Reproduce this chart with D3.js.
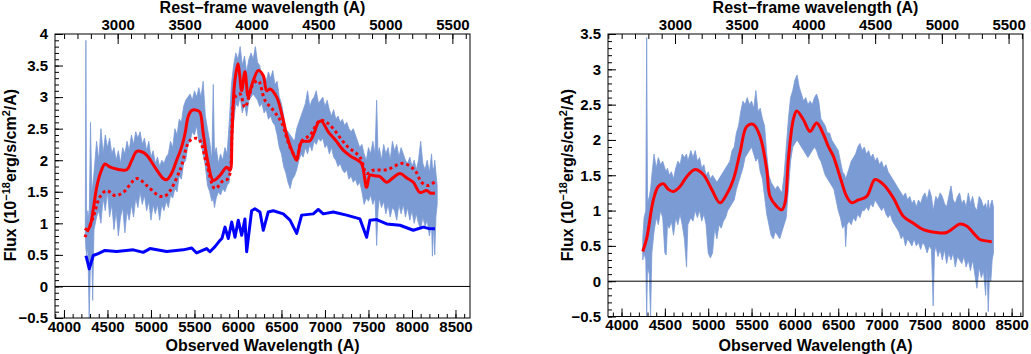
<!DOCTYPE html>
<html>
<head>
<meta charset="utf-8">
<script src="https://cdn.jsdelivr.net/npm/d3@7"></script>
<style>
  html, body { margin: 0; padding: 0; background: #fff; }
  svg { display: block; }
  text { font-family: "Liberation Sans", Arial, Helvetica, sans-serif; font-weight: bold; fill: #000; }
</style>
</head>
<body>
<svg id="chart" width="1031" height="354"></svg>
<script>
// ---------------- DATA ----------------
const redshiftFactor = 1.539;   // observed / rest-frame

const obsTicks = [4000, 4500, 5000, 5500, 6000, 6500, 7000, 7500, 8000, 8500];
const restTicks = [3000, 3500, 4000, 4500, 5000, 5500];
const leftYTicks = [-0.5, 0, 0.5, 1, 1.5, 2, 2.5, 3, 3.5, 4];
const rightYTicks = [-0.5, 0, 0.5, 1, 1.5, 2, 2.5, 3, 3.5];

// left panel: observed spectrum envelope
const leftBandWave = [4245,4252,4260,4275,4290,4305,4320,4330,4345,4375,4400,4425,4450,4475,4500,4525,4550,4575,4600,4625,4650,4675,4700,4725,4750,4775,4800,4825,4850,4875,4900,4925,4950,4975,5000,5025,5050,5075,5100,5125,5150,5175,5200,5225,5250,5275,5300,5325,5350,5375,5400,5425,5450,5475,5500,5525,5550,5575,5600,5625,5650,5675,5700,5716,5730,5750,5775,5800,5825,5850,5875,5900,5925,5950,5975,6000,6025,6050,6075,6100,6125,6150,6175,6200,6225,6250,6275,6300,6325,6350,6375,6400,6425,6450,6475,6500,6525,6550,6575,6600,6625,6650,6675,6700,6725,6750,6775,6800,6825,6850,6875,6900,6925,6950,6975,7000,7025,7050,7075,7100,7125,7150,7175,7200,7225,7250,7275,7300,7325,7350,7375,7400,7425,7450,7475,7500,7525,7550,7575,7594,7610,7625,7650,7675,7700,7725,7750,7775,7800,7825,7850,7875,7900,7925,7950,7975,8000,8025,8050,8075,8100,8125,8150,8175,8200,8225,8235,8250,8262,8275,8290];
const leftBandUpper = [0.9,3.9,1.0,1.2,1.0,2.6,1.5,1.6,1.8,2.3,2.0,2.5,2.1,2.4,2.2,2.35,2.1,2.2,2.0,2.15,1.95,2.2,2.1,2.3,2.15,2.4,2.25,2.45,2.35,2.45,2.25,2.35,2.15,2.3,2.05,2.15,1.95,2.05,1.9,2.0,1.95,2.05,2.1,2.3,2.2,2.5,2.4,2.65,2.6,2.85,2.95,3.0,3.05,2.95,3.1,3.0,3.15,3.0,3.25,2.7,2.5,2.3,2.0,3.2,2.1,2.2,1.95,2.1,2.0,2.2,2.1,2.6,3.2,3.5,3.7,3.6,3.8,3.5,3.65,3.4,3.6,3.7,3.6,3.8,3.55,3.5,3.3,3.35,3.25,3.4,3.3,3.42,3.2,3.25,3.0,2.9,2.7,2.5,2.45,2.4,2.35,2.3,2.5,2.6,2.7,2.8,2.9,3.1,2.85,2.95,3.0,3.1,2.9,2.95,3.0,2.85,2.95,2.8,2.7,2.8,2.65,2.7,2.6,2.65,2.55,2.6,2.5,2.45,2.5,2.4,2.3,2.2,2.25,2.1,2.0,2.2,2.1,2.3,2.1,2.95,2.1,2.2,2.0,2.25,2.1,2.2,2.0,2.3,2.15,2.25,2.05,2.2,2.1,2.0,1.95,2.05,1.9,2.0,1.85,2.0,2.3,1.95,1.85,2.0,1.8,2.1,1.9,1.85,2.0,1.8,1.6];
const leftBandLower = [0.8,0.6,0.5,0.6,-0.5,0.4,0.5,-0.22,0.9,1.1,1.2,1.0,1.4,1.2,1.5,1.1,1.3,0.9,1.2,0.8,1.1,1.25,0.85,1.2,1.05,1.3,1.1,1.4,1.25,1.5,1.3,1.45,1.2,1.35,1.05,1.3,1.15,1.3,1.05,1.3,1.2,1.35,1.25,1.45,1.4,1.55,1.5,1.75,1.7,1.95,2.0,2.25,2.3,2.45,2.4,2.55,2.3,2.3,2.1,1.9,1.6,1.5,1.35,1.4,1.25,1.4,1.5,1.45,1.55,1.5,1.6,1.65,2.2,2.6,2.9,2.85,3.0,2.75,2.9,2.7,2.95,3.0,3.05,3.0,2.95,2.85,2.9,2.75,2.8,2.65,2.7,2.6,2.55,2.4,2.2,2.1,1.9,1.8,1.65,1.55,1.7,1.75,1.85,2.0,2.1,2.05,2.2,2.1,2.25,2.15,2.3,2.25,2.35,2.3,2.35,2.2,2.25,2.1,2.2,2.05,2.0,1.9,1.95,1.85,1.8,1.85,1.7,1.75,1.65,1.7,1.6,1.65,1.5,1.3,1.4,1.35,1.45,1.3,1.4,0.65,1.2,1.4,1.25,1.35,1.15,1.3,1.1,1.25,1.2,1.05,1.3,1.15,1.3,1.1,1.25,1.05,1.2,1.0,1.15,1.0,0.9,1.1,0.95,1.05,0.8,1.0,0.48,1.0,0.5,1.1,1.3];

// right panel: observed spectrum envelope
const rightBandWave = [4245,4260,4280,4290,4300,4320,4335,4350,4375,4400,4425,4450,4475,4500,4515,4530,4550,4575,4600,4625,4650,4675,4700,4725,4750,4765,4800,4825,4850,4875,4900,4925,4950,4975,5000,5025,5050,5075,5100,5125,5150,5175,5200,5225,5250,5275,5300,5325,5350,5375,5400,5425,5450,5475,5500,5525,5550,5575,5600,5625,5650,5675,5700,5725,5750,5775,5800,5825,5850,5875,5900,5925,5950,5975,6000,6025,6050,6075,6100,6125,6150,6175,6200,6225,6250,6275,6300,6325,6350,6375,6400,6425,6450,6475,6500,6525,6550,6575,6585,6600,6625,6650,6675,6700,6725,6750,6775,6800,6825,6850,6875,6900,6925,6950,6975,7000,7025,7050,7075,7100,7125,7150,7175,7200,7225,7250,7275,7300,7325,7350,7375,7400,7425,7450,7475,7500,7525,7550,7575,7595,7610,7625,7650,7675,7700,7725,7750,7775,7800,7825,7850,7875,7900,7925,7950,7975,8000,8025,8050,8075,8100,8125,8150,8175,8200,8215,8230,8245,8260,8275,8290];
const rightBandUpper = [0.6,0.9,1.0,3.45,1.1,1.2,1.3,1.5,1.8,1.6,1.75,1.65,1.7,1.6,1.55,1.6,1.5,1.55,1.45,1.6,1.7,1.65,1.8,1.75,1.8,1.7,1.85,1.75,1.85,1.7,1.75,1.6,1.65,1.5,1.55,1.45,1.5,1.45,1.4,1.45,1.5,1.55,1.6,1.65,1.7,1.85,1.9,2.1,2.2,2.4,2.55,2.5,2.6,2.5,2.55,2.45,2.7,2.4,2.45,2.3,2.2,1.8,1.5,1.4,1.35,1.3,1.35,1.3,1.25,1.5,1.9,2.3,2.6,2.7,2.85,2.92,2.75,2.65,2.55,2.6,2.5,2.55,2.5,2.6,2.65,2.55,2.3,2.25,2.2,2.1,2.1,2.0,1.95,1.9,1.85,1.7,1.55,1.5,1.45,1.5,1.6,1.7,1.75,1.8,1.9,1.95,1.85,1.9,1.8,1.85,1.75,1.8,1.7,1.75,1.65,1.7,1.6,1.65,1.55,1.5,1.45,1.4,1.35,1.3,1.25,1.2,1.25,1.15,1.2,1.1,1.15,1.05,1.15,1.1,1.2,1.25,1.15,1.3,1.2,1.0,1.1,1.2,1.15,1.25,1.2,1.1,1.05,1.2,1.35,1.15,1.1,1.2,1.25,1.1,1.15,1.05,1.25,1.1,1.2,1.05,1.0,1.2,1.15,1.05,1.1,1.0,1.15,1.0,1.1,1.15,1.05];
const rightBandLower = [0.3,0.4,0.3,-0.5,0.2,0.1,-0.5,0.4,0.7,0.9,0.8,1.0,0.9,0.4,0.37,0.8,0.75,0.85,0.65,0.9,0.8,0.95,0.8,0.6,0.2,0.8,0.9,0.85,1.0,0.9,1.0,0.85,0.95,0.8,0.4,0.33,0.4,0.75,0.6,0.8,0.75,0.85,0.9,1.0,1.05,1.1,1.15,1.3,1.4,1.5,1.6,1.75,1.8,1.85,1.9,1.8,1.7,1.75,1.55,1.45,1.2,0.95,0.8,0.65,0.6,0.7,0.65,0.6,0.7,0.8,0.9,1.3,1.7,1.9,1.95,2.0,1.95,1.9,1.85,1.8,1.75,1.8,1.85,1.9,1.85,1.75,1.7,1.6,1.5,1.45,1.4,1.35,1.3,1.15,1.0,0.9,0.75,0.8,0.49,0.8,0.85,0.8,0.9,0.85,0.95,0.9,1.0,1.0,1.05,1.0,1.1,1.05,1.15,1.1,1.05,1.0,1.05,0.95,0.9,0.95,0.85,0.8,0.75,0.7,0.6,0.65,0.5,0.6,0.55,0.5,0.6,0.5,0.55,0.45,0.55,0.5,0.4,0.5,0.45,-0.35,0.4,0.5,0.35,0.45,0.3,0.45,0.25,0.4,0.3,0.4,0.2,0.35,0.3,0.25,0.35,0.2,0.3,0.15,0.3,0.1,-0.1,0.2,0.05,0.15,-0.2,0.2,-0.43,0.1,0.0,0.3,0.4];

// left panel: best-fit model (solid red)
const leftModelWave = [4241,4270,4299,4340,4376,4420,4471,4520,4606,4721,4780,4836,4900,4951,5050,5141,5180,5240,5295,5350,5391,5430,5470,5530,5563,5601,5650,5716,5793,5870,5908,5931,5960,6000,6020,6043,6080,6118,6150,6176,6233,6291,6330,6368,6445,6502,6560,6620,6675,6700,6732,6828,6880,6923,6960,7038,7120,7210,7300,7364,7420,7479,7517,7580,7632,7709,7780,7862,7940,8015,8092,8169,8210,8264];
const leftModelFlux = [0.92,0.9,0.95,1.25,1.57,1.8,1.94,1.9,1.86,1.85,2.0,2.14,2.13,2.08,1.88,1.71,1.69,1.8,2.0,2.2,2.42,2.7,2.79,2.79,2.76,2.42,2.0,1.68,1.76,1.89,1.84,2.4,3.2,3.53,3.35,3.1,3.4,3.0,3.15,3.26,3.42,3.34,3.1,3.13,3.0,2.74,2.4,2.15,2.0,2.15,2.29,2.31,2.45,2.6,2.62,2.45,2.32,2.16,2.06,2.01,1.95,1.57,1.76,1.75,1.74,1.65,1.72,1.79,1.72,1.65,1.49,1.52,1.48,1.48];

// left panel: alternative model (dotted red)
const leftAltWave = [4241,4337,4414,4491,4586,4682,4836,4951,5103,5180,5333,5448,5544,5640,5736,5831,5889,5966,6023,6080,6176,6233,6310,6406,6500,6600,6675,6730,6830,6943,7038,7249,7402,7479,7555,7709,7900,8034,8111,8187,8264];
const leftAltFlux = [0.78,1.1,1.42,1.52,1.44,1.49,1.71,1.6,1.43,1.45,1.84,2.31,2.34,1.94,1.55,1.68,1.71,3.0,3.05,2.84,3.21,3.26,2.95,2.79,2.6,2.2,2.05,2.3,2.4,2.63,2.58,2.23,2.05,1.79,1.84,1.85,1.95,1.84,1.65,1.6,1.66];

// left panel: stellar template (blue)
const leftTemplateWave = [4253,4291,4337,4394,4471,4606,4797,4911,4989,5180,5371,5468,5525,5640,5678,5736,5793,5816,5851,5889,5928,5966,6003,6043,6080,6100,6157,6195,6253,6291,6348,6406,6521,6598,6675,6732,6866,6923,6980,7095,7249,7402,7479,7517,7594,7709,7862,8015,8130,8187,8264];
const leftTemplateFlux = [0.49,0.28,0.49,0.52,0.57,0.555,0.58,0.54,0.6,0.555,0.58,0.61,0.53,0.6,0.55,0.63,0.73,0.76,0.94,0.76,1.02,0.78,1.05,0.81,1.07,0.55,1.2,1.23,1.18,0.89,1.18,1.2,1.15,1.05,0.84,1.13,1.15,1.22,1.15,1.18,1.13,1.07,0.78,1.05,1.06,0.99,0.97,0.89,0.94,0.92,0.915];

// right panel: model (solid red)
const rightModelWave = [4245,4291,4367,4424,4482,4540,4597,4675,4752,4848,4943,5040,5136,5213,5290,5367,5444,5520,5598,5675,5713,5790,5848,5886,5924,5982,6021,6097,6174,6251,6328,6385,6443,6520,6597,6655,6731,6828,6924,7020,7135,7250,7366,7481,7635,7751,7904,7981,8097,8135,8270];
const rightModelFlux = [0.42,0.61,1.15,1.34,1.38,1.3,1.27,1.34,1.48,1.58,1.51,1.3,1.11,1.23,1.44,1.82,2.19,2.22,2.05,1.58,1.2,1.06,1.01,1.11,1.72,2.29,2.41,2.29,2.12,2.24,2.08,1.91,1.77,1.48,1.2,1.11,1.15,1.2,1.44,1.37,1.18,0.92,0.82,0.73,0.69,0.69,0.81,0.78,0.63,0.59,0.56];

// ---------------- DRAWING ----------------
const svg = d3.select("#chart");
const BAND = "#7b9bd5";

function drawPanel(cfg, id) {
  const g = svg.append("g");
  const x = d3.scaleLinear().domain(cfg.xDomain).range([cfg.left, cfg.right]);
  const xr = d3.scaleLinear().domain([cfg.xDomain[0] / redshiftFactor, cfg.xDomain[1] / redshiftFactor]).range([cfg.left, cfg.right]);
  const y = d3.scaleLinear().domain(cfg.yDomain).range([cfg.bottom, cfg.top]);

  g.append("clipPath").attr("id", "clip" + id)
    .append("rect").attr("x", cfg.left).attr("y", cfg.top)
    .attr("width", cfg.right - cfg.left).attr("height", cfg.bottom - cfg.top);

  const plot = g.append("g").attr("clip-path", `url(#clip${id})`);

  // band
  const area = d3.area()
    .x((d, i) => x(cfg.bandWave[i]))
    .y0((d, i) => y(cfg.bandLower[i]))
    .y1((d, i) => y(cfg.bandUpper[i]));
  plot.append("path").datum(cfg.bandWave).attr("d", area)
    .attr("fill", BAND).attr("stroke", BAND).attr("stroke-width", 0.8);

  // zero line
  g.append("line").attr("x1", cfg.left).attr("x2", cfg.right)
    .attr("y1", y(0)).attr("y2", y(0)).attr("stroke", "#000").attr("stroke-width", 1);

  const line = (wv, fl, curve) => d3.line()
    .x((d, i) => x(wv[i])).y((d, i) => y(fl[i])).curve(curve)(wv);

  (cfg.lines || []).forEach(L => {
    plot.append("path").attr("d", line(L.wave, L.flux, L.curve))
      .attr("fill", "none").attr("stroke", L.color).attr("stroke-width", L.width)
      .attr("stroke-dasharray", L.dash || null)
      .attr("stroke-linejoin", "round");
  });

  // axes
  const fmt = d3.format("~g");
  const styleAxis = sel => {
    sel.select(".domain").remove();
    sel.selectAll("line").attr("stroke", "#000").attr("stroke-width", 1);
    sel.selectAll("text").style("font-size", "15px").style("font-weight", "bold")
      .style("font-family", '"Liberation Sans", Arial, Helvetica, sans-serif');
  };

  // left Y axis
  const yMinor = d3.range(cfg.yDomain[0], cfg.yDomain[1] + 1e-9, 0.1).map(v => +v.toFixed(2));
  g.append("g").attr("transform", `translate(${cfg.left},0)`)
    .call(d3.axisLeft(y).tickValues(yMinor).tickSize(-4).tickFormat(""))
    .call(styleAxis);
  g.append("g").attr("transform", `translate(${cfg.left},0)`)
    .call(d3.axisLeft(y).tickValues(cfg.yTicks).tickSize(-8).tickPadding(7).tickFormat(fmt))
    .call(styleAxis);

  // bottom (observed) axis
  const xMinor = d3.range(3900, cfg.xDomain[1], 100).filter(v => v >= cfg.xDomain[0]);
  g.append("g").attr("transform", `translate(0,${cfg.bottom})`)
    .call(d3.axisBottom(x).tickValues(xMinor).tickSize(-4).tickFormat(""))
    .call(styleAxis);
  g.append("g").attr("transform", `translate(0,${cfg.bottom})`)
    .call(d3.axisBottom(x).tickValues(obsTicks).tickSize(-8).tickPadding(3).tickFormat(d3.format("d")))
    .call(styleAxis);

  // top (rest-frame) axis
  const rMinor = d3.range(2500, xr.domain()[1], 100).filter(v => v >= xr.domain()[0]);
  g.append("g").attr("transform", `translate(0,${cfg.top})`)
    .call(d3.axisTop(xr).tickValues(rMinor).tickSize(-5).tickFormat(""))
    .call(styleAxis);
  g.append("g").attr("transform", `translate(0,${cfg.top})`)
    .call(d3.axisTop(xr).tickValues(restTicks).tickSize(-10).tickPadding(4).tickFormat(d3.format("d")))
    .call(styleAxis);

  // frame
  g.append("rect").attr("x", cfg.left).attr("y", cfg.top)
    .attr("width", cfg.right - cfg.left).attr("height", cfg.bottom - cfg.top)
    .attr("fill", "none").attr("stroke", "#000").attr("stroke-width", 1);

  const cx = (cfg.left + cfg.right) / 2;
  g.append("text").attr("x", cx).attr("y", 13).attr("text-anchor", "middle")
    .style("font-size", "16px").text("Rest\u2212frame wavelength (A)");
  g.append("text").attr("x", cx).attr("y", 351).attr("text-anchor", "middle")
    .style("font-size", "16px").text("Observed Wavelength (A)");

  const yt = g.append("text")
    .attr("transform", `translate(${cfg.ytitleX},175) rotate(-90)`)
    .attr("text-anchor", "middle").style("font-size", "16px");
  yt.append("tspan").text("Flux (10");
  yt.append("tspan").attr("dy", -6).style("font-size", "11px").text("\u221218");
  yt.append("tspan").attr("dy", 6).text("erg/s/cm");
  yt.append("tspan").attr("dy", -6).style("font-size", "11px").text("2");
  yt.append("tspan").attr("dy", 6).text("/A)");
}

drawPanel({
  left: 55, right: 470, top: 34, bottom: 318,
  xDomain: [3897, 8667], yDomain: [-0.5, 4], yTicks: leftYTicks,
  bandWave: leftBandWave, bandUpper: leftBandUpper, bandLower: leftBandLower, ytitleX: 16,
  lines: [
    { wave: leftTemplateWave, flux: leftTemplateFlux, color: "#0000ff", width: 3, curve: d3.curveLinear },
    { wave: leftAltWave, flux: leftAltFlux, color: "#ff0000", width: 3, dash: "3,3", curve: d3.curveCatmullRom },
    { wave: leftModelWave, flux: leftModelFlux, color: "#ff0000", width: 3, curve: d3.curveCatmullRom }
  ]
}, "L");

drawPanel({
  left: 608, right: 1023, top: 34, bottom: 316.5,
  xDomain: [3844, 8631], yDomain: [-0.5, 3.5], yTicks: rightYTicks,
  bandWave: rightBandWave, bandUpper: rightBandUpper, bandLower: rightBandLower, ytitleX: 573,
  lines: [
    { wave: rightModelWave, flux: rightModelFlux, color: "#ff0000", width: 3, curve: d3.curveCatmullRom }
  ]
}, "R");
</script>
</body>
</html>
